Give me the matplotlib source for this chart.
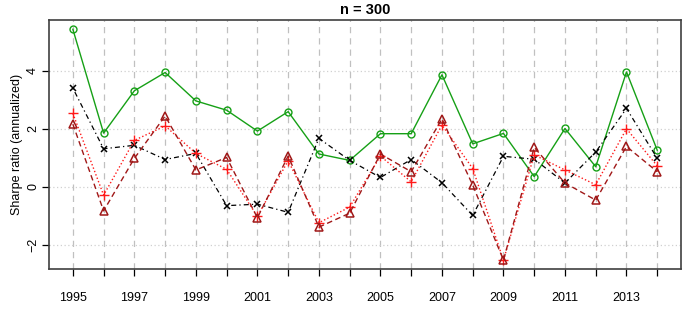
#!/usr/bin/env python3
"""
Annual Sharpe ratios of four strategies, n = 300
"""
import numpy as np
import matplotlib
matplotlib.use("Agg")
import matplotlib.pyplot as plt

plt.rcParams['font.family'] = ['Liberation Sans', 'DejaVu Sans']

years = list(range(1995, 2015))
tick_labels = [str(y) if y % 2 == 1 else '' for y in years]

# Sharpe ratios
green_circle = [5.43, 1.85, 3.31, 3.94, 2.96, 2.64, 1.92, 2.59, 1.13, 0.91,
                1.83, 1.83, 3.86, 1.48, 1.84, 0.35, 2.01, 0.69, 3.96, 1.26]
black_cross = [3.40, 1.31, 1.43, 0.94, 1.15, -0.65, -0.60, -0.88, 1.67, 0.91,
               0.32, 0.94, 0.14, -0.99, 1.05, 0.95, 0.13, 1.20, 2.70, 0.98]
red_plus = [2.53, -0.29, 1.60, 2.10, 1.15, 0.60, -1.02, 0.90, -1.24, -0.70,
            1.06, 0.17, 2.13, 0.63, -2.53, 1.10, 0.58, 0.07, 2.00, 0.72]
darkred_triangle = [2.16, -0.83, 0.98, 2.44, 0.58, 1.01, -1.07, 1.06, -1.39, -0.91,
                    1.13, 0.52, 2.34, 0.06, -2.53, 1.36, 0.13, -0.46, 1.39, 0.52]

fig = plt.figure(figsize=(6.92, 3.2), dpi=100)
ax = fig.add_axes([0.0715, 0.158, 0.9125, 0.7795])

# grid first so it stays behind the lines
for y in years:
    ax.axvline(y, color='#c0c0c0', linewidth=0.9, linestyle=(0, (5, 4)), zorder=0)
for v in [-2, 0, 2, 4]:
    ax.axhline(v, color='#d0d0d0', linewidth=0.9, linestyle=(0, (1, 2)), zorder=0)

ax.plot(years, green_circle, color='#16a016', linestyle='-', linewidth=1.0,
        marker='o', markersize=5, markerfacecolor='none', markeredgewidth=1.0)
ax.plot(years, black_cross, color='black', linestyle=(0, (1, 2.5, 4, 2.5)), linewidth=0.9,
        marker='x', markersize=4.5, markeredgewidth=1.1)
ax.plot(years, red_plus, color='#ff1a1a', linestyle=(0, (1, 1.6)), linewidth=1.0,
        marker='+', markersize=7.5, markeredgewidth=1.0)
ax.plot(years, darkred_triangle, color='#a01818', linestyle=(0, (4, 2.5)), linewidth=1.0,
        marker='^', markersize=6, markerfacecolor='none', markeredgewidth=1.1)

ax.set_xlim(1994.24, 2014.77)
ax.set_ylim(-2.85, 5.75)
ax.set_xticks(years)
ax.set_xticklabels(tick_labels)
ax.set_yticks([-2, 0, 2, 4])
ax.set_yticklabels(['\u22122', '0', '2', '4'], rotation=90, va='center')
ax.tick_params(axis='x', length=5, width=0.9, pad=11, labelsize=9)
ax.tick_params(axis='y', length=5, width=0.9, pad=2.5, labelsize=9)

for s in ax.spines.values():
    s.set_color('#404040')
    s.set_linewidth(1.2)

ax.set_ylabel('Sharpe ratio (annualized)', fontsize=9, labelpad=3)
ax.set_title('n = 300', fontsize=10.5, fontweight='bold', pad=4)

fig.savefig('out.png', dpi=100)
plt.close(fig)
